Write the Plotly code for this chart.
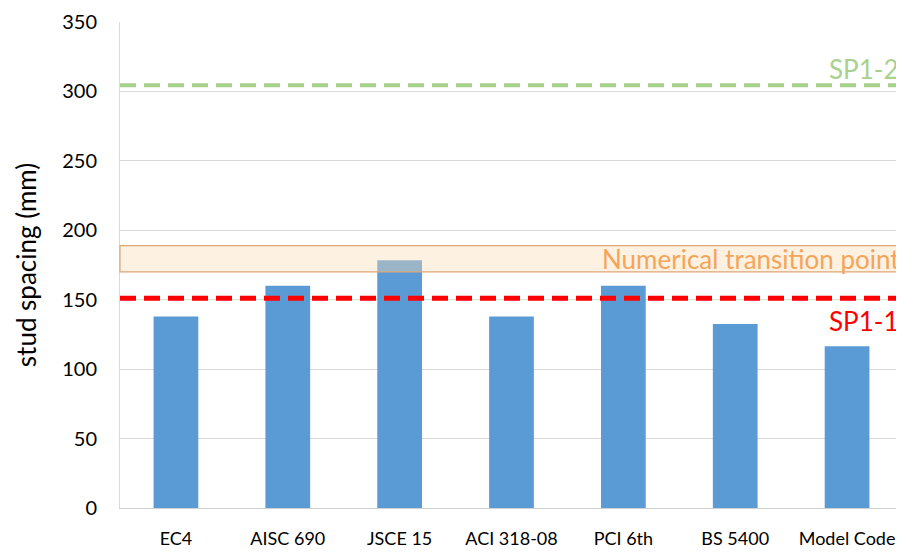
import plotly.graph_objects as go

categories = ["EC4", "AISC 690", "JSCE 15", "ACI 318-08", "PCI 6th", "BS 5400", "Model Code"]
spacing = [138, 160, 178.5, 138, 160, 132.5, 116.5]
sp1_1 = 151
sp1_2 = 304.5
band_low, band_high = 170, 189
y_ticks = [0, 50, 100, 150, 200, 250, 300, 350]

fig = go.Figure()
fig.add_trace(go.Bar(x=categories, y=spacing, marker_color="#5B9BD5", width=0.4,
                     marker_line_width=0))

font_family = "Lato"
fig.add_shape(type="rect", xref="paper", x0=0, x1=1, yref="y", y0=band_low, y1=band_high,
              fillcolor="rgba(250,220,180,0.40)", line=dict(color="#DDA878", width=1.2),
              layer="above")
fig.add_shape(type="line", xref="paper", x0=0, x1=1, yref="y", y0=sp1_1, y1=sp1_1,
              line=dict(color="#FF0000", width=5, dash="16px,8px"), layer="above")
fig.add_shape(type="line", xref="paper", x0=0, x1=1, yref="y", y0=sp1_2, y1=sp1_2,
              line=dict(color="#A9D18E", width=4, dash="16px,8px"), layer="above")

fig.add_annotation(xref="paper", x=0.999, y=(band_low + band_high) / 2, text="Numerical transition point",
                   showarrow=False, xanchor="right", yanchor="middle",
                   font=dict(family=font_family, size=26, color="#F4A55A"))
fig.add_annotation(xref="paper", x=0.997, y=sp1_2, text="SP1-2", showarrow=False,
                   xanchor="right", yanchor="bottom", yshift=-2,
                   font=dict(family=font_family, size=26, color="#A9D18E"))
fig.add_annotation(xref="paper", x=0.997, y=sp1_1, text="SP1-1", showarrow=False,
                   xanchor="right", yanchor="top", yshift=-5,
                   font=dict(family=font_family, size=26, color="#FF0000"))

fig.update_layout(
    width=896, height=544,
    margin=dict(l=112, r=1, t=14, b=44),
    plot_bgcolor="white", paper_bgcolor="white",
    showlegend=False,
    font=dict(family=font_family, size=15, color="#000000"),
    xaxis=dict(showline=True, linecolor="#D0D0D0", linewidth=1, mirror=False,
               tickfont=dict(size=18), ticks="", showgrid=False, ticklabelstandoff=14),
    yaxis=dict(range=[0, 350], tickvals=y_ticks, showgrid=True, gridcolor="#D9D9D9",
               showline=True, linecolor="#D9D9D9", zeroline=False, ticks="",
               tickfont=dict(size=20), ticklabelstandoff=18,
               title=dict(text="stud spacing (mm)", font=dict(size=26), standoff=18)),
)
fig.add_shape(type="line", xref="paper", x0=1, x1=1, yref="paper", y0=0, y1=1,
              line=dict(color="#E0E0E0", width=1))

fig.write_html("out.html")
